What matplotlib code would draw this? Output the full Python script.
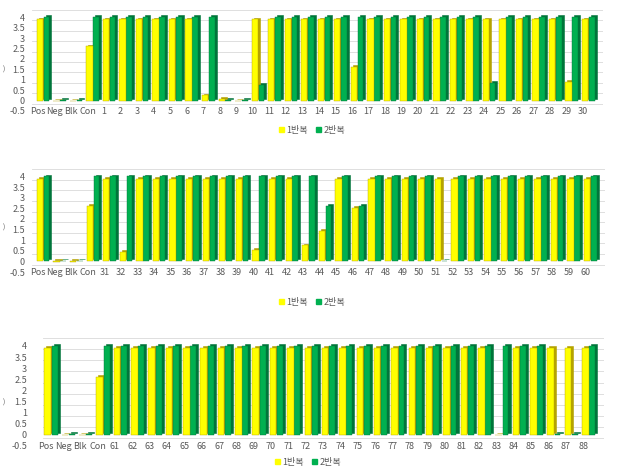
import matplotlib
matplotlib.use('Agg')
import matplotlib.pyplot as plt
from matplotlib.patches import Patch

plt.rcParams['font.family'] = ['Noto Sans CJK KR', 'DejaVu Sans']

# ---------------- data ----------------
controls = ['Pos', 'Neg', 'Blk', 'Con']
labels1 = controls + [str(i) for i in range(1, 31)]
labels2 = controls + [str(i) for i in range(31, 61)]
labels3 = controls + [str(i) for i in range(61, 89)]

rep1_p1 = [3.9, -0.02, -0.02, 2.6,
           3.9, 3.9, 3.9, 3.9, 3.9, 3.9, 0.25, 0.08, -0.02, 3.9,
           3.9, 3.9, 3.9, 3.9, 3.9, 1.6, 3.9, 3.9, 3.9, 3.9,
           3.9, 3.9, 3.9, 3.9, 3.9, 3.9, 3.9, 3.9, 0.9, 3.9]
rep2_p1 = [4.0, 0.02, 0.02, 4.0,
           4.0, 4.0, 4.0, 4.0, 4.0, 4.0, 4.0, 0.05, 0.02, 0.75,
           4.0, 4.0, 4.0, 4.0, 4.0, 4.0, 4.0, 4.0, 4.0, 4.0,
           4.0, 4.0, 4.0, 0.85, 4.0, 4.0, 4.0, 4.0, 4.0, 4.0]

rep1_p2 = [3.9, -0.02, -0.02, 2.6,
           3.9, 0.45, 3.9, 3.9, 3.9, 3.9, 3.9, 3.9, 3.9, 0.55,
           3.9, 3.9, 0.75, 1.45, 3.9, 2.5, 3.9, 3.9, 3.9, 3.9,
           3.9, 3.9, 3.9, 3.9, 3.9, 3.9, 3.9, 3.9, 3.9, 3.9]
rep2_p2 = [4.0, 0.02, 0.02, 4.0,
           4.0, 4.0, 4.0, 4.0, 4.0, 4.0, 4.0, 4.0, 4.0, 4.0,
           4.0, 4.0, 4.0, 2.6, 4.0, 2.6, 4.0, 4.0, 4.0, 4.0,
           0.02, 4.0, 4.0, 4.0, 4.0, 4.0, 4.0, 4.0, 4.0, 4.0]

rep1_p3 = [3.9, -0.02, -0.02, 2.6,
           3.9, 3.9, 3.9, 3.9, 3.9, 3.9, 3.9, 3.9, 3.9, 3.9,
           3.9, 3.9, 3.9, 3.9, 3.9, 3.9, 3.9, 3.9, 3.9, 3.9,
           3.9, 3.9, -0.02, 3.9, 3.9, 3.9, 3.9, 3.9]
rep2_p3 = [4.0, 0.02, 0.02, 4.0,
           4.0, 4.0, 4.0, 4.0, 4.0, 4.0, 4.0, 4.0, 4.0, 4.0,
           4.0, 4.0, 4.0, 4.0, 4.0, 4.0, 4.0, 4.0, 4.0, 4.0,
           4.0, 4.0, 4.0, 4.0, 4.0, 0.02, 0.02, 4.0]

series_names = ['1반복', '2반복']
yticks = [-0.5, 0, 0.5, 1, 1.5, 2, 2.5, 3, 3.5, 4]
ytick_labels = ['-0.5', '0', '0.5', '1', '1.5', '2', '2.5', '3', '3.5', '4']

# ---------------- style ----------------
YEL, YEL_D = '#FFFF00', '#B5A300'
GRN, GRN_D = '#00B050', '#00753A'
TXT = '#595959'
GRID = '#D9D9D9'
W = 621 / 100
H = 477 / 100

fig = plt.figure(figsize=(W, H), dpi=100)

def px(x0, y_top, x1, y_bot):
    return [x0 / 621, 1 - y_bot / 477, (x1 - x0) / 621, (y_bot - y_top) / 477]

panels = [
    (labels1, rep1_p1, rep2_p1, px(32, 10, 603, 112), (-0.36, 34.2), 7, (312, 131)),
    (labels2, rep1_p2, rep2_p2, px(32, 169, 605, 273), (-0.36, 34.2), 7, (312, 303)),
    (labels3, rep1_p3, rep2_p3, px(43, 338, 604, 447), (-0.15, 32.2), 16, (308, 463)),
]

depth_x, depth_y = 0.12, 0.09
wall_shift = 0.35

for labels, r1, r2, rect, xl, ypad, legpos in panels:
    ax = fig.add_axes(rect)
    x = list(range(len(labels)))
    for t in yticks:
        ax.axhline(t + wall_shift, color=GRID, lw=0.6, zorder=0)
    ax.axhline(yticks[0], color=GRID, lw=0.6, zorder=0)
    # green series (right, behind) then yellow series (left, front)
    for off, vals, c, cd, w in [(0.52, r2, GRN, GRN_D, 0.34), (0.12, r1, YEL, YEL_D, 0.38)]:
        xs = [i + off for i in x]
        ax.bar([v + depth_x for v in xs], vals, width=w, bottom=depth_y,
               color=cd, edgecolor=cd, linewidth=0.4, zorder=2)
        ax.bar(xs, vals, width=w, color=c, edgecolor=cd, linewidth=0.3, zorder=3)
    ax.set_xlim(*xl)
    ax.set_ylim(-0.5, 4.4)
    ax.set_yticks(yticks)
    ax.set_yticklabels(ytick_labels)
    ax.set_xticks(x)
    ax.set_xticklabels(labels)
    ax.tick_params(axis='x', length=0, pad=-3.5, labelsize=6.5, labelcolor=TXT)
    ax.tick_params(axis='y', length=0, pad=ypad * 0.72, labelsize=6.5, labelcolor=TXT)
    for lab in ax.get_yticklabels():
        lab.set_verticalalignment('center')
    for s in ax.spines.values():
        s.set_visible(False)
    ax.set_facecolor('none')
    handles = [Patch(color=YEL), Patch(color=GRN)]
    fig.legend(handles, series_names, loc='center',
               bbox_to_anchor=(legpos[0] / 621, 1 - legpos[1] / 477),
               ncol=2, frameon=False, fontsize=6.5, labelcolor=TXT,
               handlelength=0.55, handleheight=0.55, handletextpad=0.3,
               columnspacing=0.9, borderpad=0)

# cut-off axis-title fragments at the left edge
for yy in (70, 228, 403):
    fig.text(4 / 621, 1 - yy / 477, ')', fontsize=5, color=TXT, ha='center', va='center')

fig.savefig('out.png', dpi=100)
